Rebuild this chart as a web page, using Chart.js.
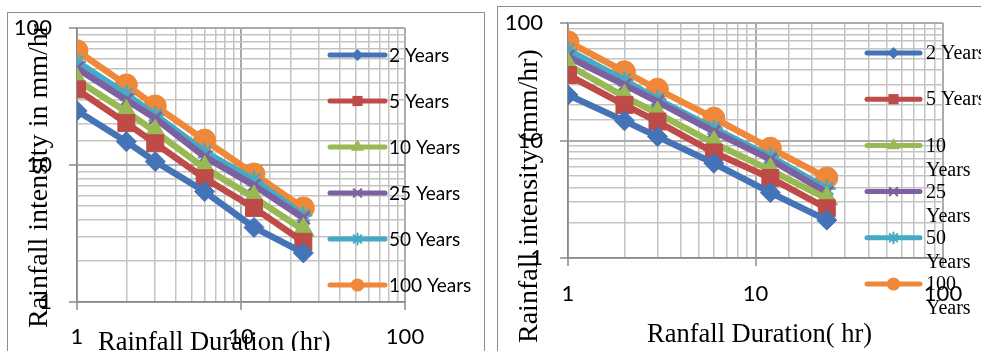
<!DOCTYPE html>
<html><head><meta charset="utf-8">
<script src="https://cdn.jsdelivr.net/npm/chart.js@4/dist/chart.umd.min.js"></script>
<style>
html,body{margin:0;padding:0;background:#fff;width:981px;height:351px;overflow:hidden;}
.box{position:absolute;border:1px solid #8d8d8d;background:#fff;overflow:hidden;}
#boxA{left:7px;top:12px;width:476px;height:360px;}
#boxB{left:497px;top:6px;width:500px;height:360px;}
canvas{position:absolute;left:0;top:0;}
</style></head>
<body>
<div class="box" id="boxA"><canvas id="cA" width="476" height="338"></canvas></div>
<div class="box" id="boxB"><canvas id="cB" width="483" height="344"></canvas></div>
<script>
// ---------- data ----------
const durations = [1, 2, 3, 6, 12, 24];              // hr
const seriesLabels = ['2 Years', '5 Years', '10 Years', '25 Years', '50 Years', '100 Years'];
const tickLabels = ['1', '10', '100'];

// left chart (station A), mm/hr
const a2   = [24.9, 14.8, 10.6, 6.4, 3.5, 2.28];
const a5   = [35.6, 20.2, 14.4, 8.0, 4.86, 2.75];
const a10  = [41.7, 24.5, 17.5, 9.5, 5.8, 3.35];
const a25  = [50.8, 29.8, 21.9, 11.5, 7.1, 4.1];
const a50  = [56.7, 32.8, 23.2, 12.5, 7.8, 4.3];
const a100 = [68.3, 38.4, 27.0, 15.2, 8.6, 4.86];

// right chart (station B), mm/hr
const b2   = [24.4, 14.7, 10.8, 6.4, 3.6, 2.1];
const b5   = [36.1, 20.1, 14.5, 7.9, 4.8, 2.65];
const b10  = [43.9, 23.6, 17.0, 9.5, 5.6, 3.2];
const b25  = [51.6, 29.7, 21.4, 11.9, 6.9, 3.6];
const b50  = [58.9, 32.7, 22.4, 12.7, 7.3, 3.9];
const b100 = [69.3, 38.5, 27.3, 15.5, 8.6, 4.8];

const xTitleA = 'Rainfall Duration (hr)';
const yTitleA = 'Rainfall intensity in mm/hr';
const xTitleB = 'Ranfall Duration( hr)';
const yTitleB = 'Rainfall intensity (mm/hr)';

// ---------- styling ----------
const colors = ['#4574B6', '#BE4B48', '#98B954', '#7D60A0', '#46AAC5', '#F0883A'];
const styles = ['rectRot', 'rect', 'triangle', 'crossRot', 'star', 'circle'];
const radii  = [10, 12, 12.5, 9, 9, 11];
const GRID_MIN = '#C4C4C4', GRID_MAJ = '#ABABAB', AXIS = '#8A8A8A';
const SANS = 'Lato, "Liberation Sans", sans-serif';
const SERIF = '"Liberation Serif", "Times New Roman", serif';

const isDecade = v => Math.abs(Math.log10(v) - Math.round(Math.log10(v))) < 1e-9;
const labelFor = v => tickLabels.find(t => Math.abs(Number(t) - v) < 1e-6) || '';

function drawMarker(ctx, style, x, y, r, color) {
  ctx.save();
  ctx.fillStyle = color; ctx.strokeStyle = color; ctx.lineWidth = 2;
  ctx.beginPath();
  if (style === 'circle') { ctx.arc(x, y, r, 0, 2 * Math.PI); ctx.fill(); }
  else if (style === 'rectRot') { ctx.moveTo(x, y - r); ctx.lineTo(x + r, y); ctx.lineTo(x, y + r); ctx.lineTo(x - r, y); ctx.closePath(); ctx.fill(); }
  else if (style === 'rect') { const s = r * Math.SQRT1_2; ctx.rect(x - s, y - s, 2 * s, 2 * s); ctx.fill(); }
  else if (style === 'triangle') {
    let a = 0;
    ctx.moveTo(x + Math.sin(a) * r, y - Math.cos(a) * r);
    a += 2 * Math.PI / 3; ctx.lineTo(x + Math.sin(a) * r, y - Math.cos(a) * r);
    a += 2 * Math.PI / 3; ctx.lineTo(x + Math.sin(a) * r, y - Math.cos(a) * r);
    ctx.closePath(); ctx.fill();
  } else {
    const s = r * Math.SQRT1_2;
    ctx.moveTo(x - s, y - s); ctx.lineTo(x + s, y + s);
    ctx.moveTo(x - s, y + s); ctx.lineTo(x + s, y - s);
    if (style === 'star') { ctx.moveTo(x, y - r); ctx.lineTo(x, y + r); }
    ctx.stroke();
  }
  ctx.restore();
}

function wrapText(ctx, text, maxW) {
  if (!maxW) return [text];
  const words = text.split(' ');
  const lines = []; let cur = '';
  words.forEach(w => {
    const t = cur ? cur + ' ' + w : w;
    if (cur && ctx.measureText(t).width > maxW) { lines.push(cur); cur = w; } else cur = t;
  });
  if (cur) lines.push(cur);
  return lines;
}

const sideLegend = {
  id: 'sideLegend',
  afterDraw(chart, args, o) {
    const ctx = chart.ctx;
    chart.data.datasets.forEach((ds, i) => {
      const y = o.y0 + i * o.dy;
      ctx.save();
      ctx.strokeStyle = ds.borderColor; ctx.lineWidth = o.lineWidth; ctx.lineCap = 'round';
      ctx.beginPath(); ctx.moveTo(o.x1, y); ctx.lineTo(o.x2, y); ctx.stroke();
      drawMarker(ctx, ds.pointStyle, (o.x1 + o.x2) / 2, y, ds.pointRadius * o.markerScale, ds.borderColor);
      ctx.fillStyle = '#000'; ctx.font = o.font; ctx.textAlign = 'left'; ctx.textBaseline = 'middle';
      wrapText(ctx, ds.label, o.maxWidth).forEach((ln, k) => ctx.fillText(ln, o.textX, y + o.textDy + k * o.lineGap));
      ctx.restore();
    });
  }
};

const axisTitles = {
  id: 'axisTitles',
  afterDraw(chart, args, o) {
    const ctx = chart.ctx;
    ctx.save();
    ctx.fillStyle = '#000'; ctx.font = o.xFont; ctx.textAlign = 'left'; ctx.textBaseline = 'alphabetic';
    ctx.fillText(o.xText, o.xX, o.xY);
    ctx.translate(o.yX, o.yY); ctx.rotate(-Math.PI / 2);
    ctx.font = o.yFont;
    ctx.fillText(o.yText, 0, 0);
    ctx.restore();
  }
};

function makeDatasets(seriesList) {
  return seriesList.map((vals, i) => ({
    label: seriesLabels[i],
    data: durations.map((d, k) => ({ x: d, y: vals[k] })),
    borderColor: colors[i], backgroundColor: colors[i],
    borderWidth: 6.5, tension: 0,
    borderJoinStyle: 'round', borderCapStyle: 'round',
    pointStyle: styles[i], pointRadius: radii[i], pointHoverRadius: radii[i],
    pointBackgroundColor: colors[i], pointBorderColor: colors[i],
    pointBorderWidth: (styles[i] === 'crossRot' || styles[i] === 'star') ? 2.5 : 1
  }));
}

function makeScales(yWidth, xHeight, yPad, xPad) {
  const grid = {
    color: c => (c.tick && isDecade(c.tick.value)) ? GRID_MAJ : GRID_MIN,
    lineWidth: c => (c.tick && isDecade(c.tick.value)) ? 2 : 1.5,
    tickLength: 8,
    tickColor: c => (c.tick && isDecade(c.tick.value)) ? AXIS : 'rgba(0,0,0,0)',
    tickWidth: 1.5
  };
  return {
    x: {
      type: 'logarithmic', position: 'bottom', min: 1, max: 100,
      afterFit: s => { s.height = xHeight; },
      grid: grid, border: { color: AXIS, width: 1.5 },
      ticks: { autoSkip: false, maxRotation: 0, padding: xPad, color: '#000',
               font: { family: SANS, size: 22 }, callback: v => labelFor(v) }
    },
    y: {
      type: 'logarithmic', position: 'left', min: 1, max: 100,
      afterFit: s => { s.width = yWidth; s.paddingTop = 0; s.paddingBottom = 0; },
      grid: grid, border: { color: AXIS, width: 1.5 },
      ticks: { autoSkip: false, padding: yPad, color: '#000',
               font: { family: SANS, size: 22 }, callback: v => labelFor(v) }
    }
  };
}

new Chart(document.getElementById('cA'), {
  type: 'line',
  data: { datasets: makeDatasets([a2, a5, a10, a25, a50, a100]) },
  options: {
    responsive: false, animation: false, events: [],
    layout: { padding: { left: 0, top: 15, right: 79, bottom: 0 } },
    scales: makeScales(69, 49, 17, 14),
    plugins: {
      legend: { display: false }, tooltip: { enabled: false },
      sideLegend: { x1: 322, x2: 377, textX: 381, y0: 42, dy: 46, textDy: 1, lineGap: 22,
                    lineWidth: 5, markerScale: 0.6, font: '19px ' + SANS, maxWidth: 0 },
      axisTitles: { xText: xTitleA, xX: 90, xY: 337, xFont: '26.5px ' + SERIF,
                    yText: yTitleA, yX: 39, yY: 315, yFont: '28px ' + SERIF }
    }
  },
  plugins: [sideLegend, axisTitles]
});

new Chart(document.getElementById('cB'), {
  type: 'line',
  data: { datasets: makeDatasets([b2, b5, b10, b25, b50, b100]) },
  options: {
    responsive: false, animation: false, events: [],
    layout: { padding: { left: 0, top: 16, right: 38, bottom: 0 } },
    scales: makeScales(70, 93, 17, 15),
    plugins: {
      legend: { display: false }, tooltip: { enabled: false },
      sideLegend: { x1: 369, x2: 422, textX: 428, y0: 46, dy: 46.2, textDy: 1, lineGap: 24,
                    lineWidth: 5, markerScale: 0.6, font: '20px ' + SERIF, maxWidth: 66 },
      axisTitles: { xText: xTitleB, xX: 149, xY: 335, xFont: '26.5px ' + SERIF,
                    yText: yTitleB, yX: 39, yY: 336, yFont: '28px ' + SERIF }
    }
  },
  plugins: [sideLegend, axisTitles]
});
</script>
</body></html>
